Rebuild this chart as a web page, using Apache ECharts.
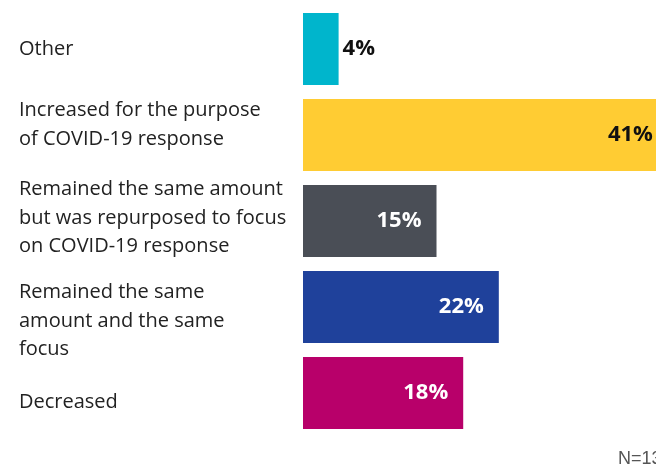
<!DOCTYPE html>
<html><head><meta charset="utf-8">
<script src="https://cdn.jsdelivr.net/npm/echarts@6/dist/echarts.min.js"></script>
<style>html,body{margin:0;padding:0;background:#fff}#c{width:656px;height:468px}</style>
</head><body><div id="c"></div>
<script>
const categories = [
  "Other",
  "Increased for the purpose\nof COVID-19 response",
  "Remained the same amount\nbut was repurposed to focus\non COVID-19 response",
  "Remained the same\namount and the same\nfocus",
  "Decreased"
];
const values = [4, 41, 15, 22, 18];
const barColors = ["#00B5CC", "#FFCC33", "#4A4E56", "#1F419B", "#B8006A"];
const labelColors = ["#111111", "#111111", "#FFFFFF", "#FFFFFF", "#FFFFFF"];
const noteText = "N=131";
// vertical nudges of the category labels (px, + = down)
const labelShift = [0, -10, -3, 14, 9];

const rich = {t: {fontFamily: 'Open Sans', fontSize: 20, lineHeight: 28.5, color: '#222'}};
labelShift.forEach((s, i) => {
  const h = Math.max(1, Math.abs(s) * 2);
  rich['g' + i] = {fontSize: 1, lineHeight: h, height: h};
});

const chart = echarts.init(document.getElementById('c'), null, {renderer: 'canvas'});
chart.setOption({
  animation: false,
  grid: {left: 303, top: 6, height: 430, right: 0, containLabel: false, outerBoundsMode: 'none'},
  xAxis: {type: 'value', min: 0, max: 39.66, show: false},
  yAxis: {
    type: 'category', inverse: true, data: categories,
    axisLine: {show: false}, axisTick: {show: false},
    axisLabel: {
      margin: 284, align: 'left', rich: rich,
      formatter: (val, idx) => {
        const s = labelShift[idx];
        const lines = val.split('\n').map(l => '{t|' + l + '}');
        if (s > 0) lines.unshift('{g' + idx + '| }');
        else if (s < 0) lines.push('{g' + idx + '| }');
        return lines.join('\n');
      }
    }
  },
  series: [{
    type: 'bar', barWidth: 72, clip: false,
    data: values.map((v, i) => ({
      value: v,
      itemStyle: {color: barColors[i]},
      label: {
        show: true,
        position: i === 0 ? 'right' : 'insideRight',
        distance: i === 0 ? 4 : 15,
        color: labelColors[i],
        fontFamily: 'Open Sans', fontWeight: 'bold', fontSize: 22,
        formatter: '{c}%'
      }
    }))
  }],
  graphic: [{
    type: 'text', left: 618, top: 450,
    style: {text: noteText, fill: '#555', font: '18px "Liberation Sans Narrow", "Liberation Sans"'}
  }]
});
</script></body></html>
